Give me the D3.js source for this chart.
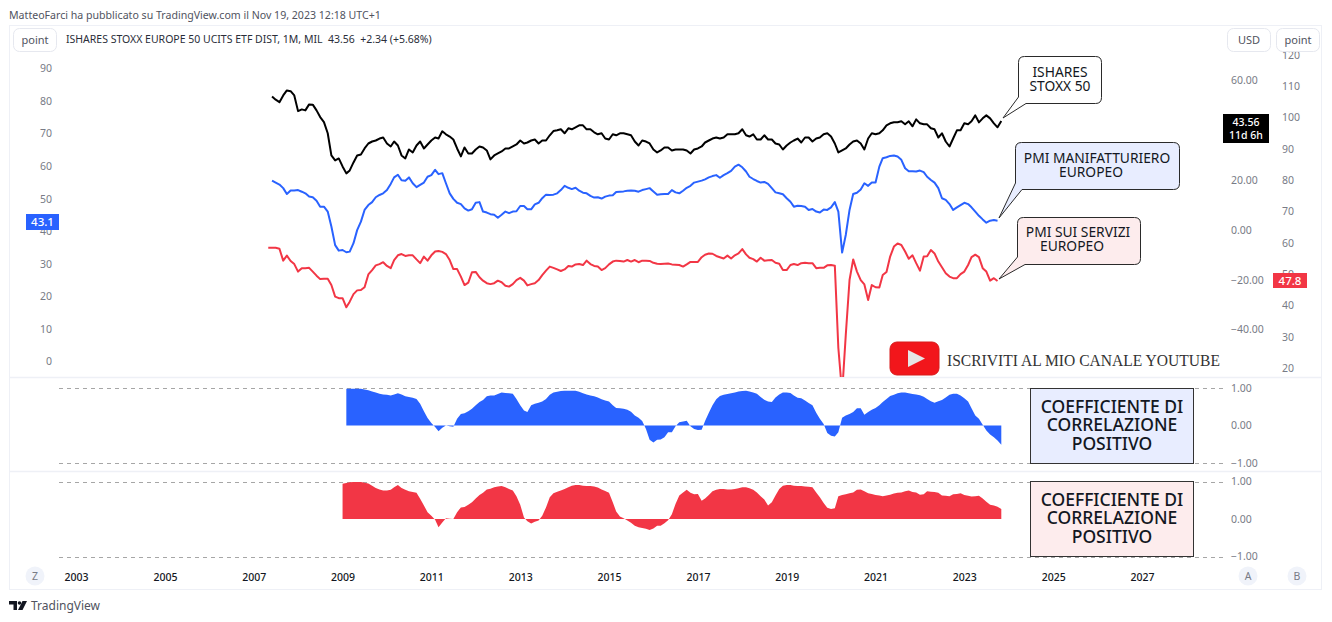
<!DOCTYPE html>
<html>
<head>
<meta charset="utf-8">
<script src="https://cdn.jsdelivr.net/npm/d3@7"></script>
<style>
  html, body { margin: 0; padding: 0; background: #fff; }
  svg { display: block; font-family: "Noto Sans", sans-serif; }
  .domain { display: none; }
  .tick line { display: none; }
</style>
</head>
<body>
<div id="chart"></div>
<script>
// ETF monthly close, USD (Jun 2007 - Nov 2023)
var etfValues = [53.4,52.1,51.1,53.8,55.8,55.5,53.8,47.5,48.2,47.8,50.2,50.1,47.8,45.1,43.1,38.6,29.7,27.7,28.5,25.3,22.5,23.7,26.9,29.7,30.1,32.5,34.5,35.3,35.7,36.5,36.9,34.5,33.3,35.3,33.7,29.7,28.5,32.1,30.9,33.7,35.3,32.5,34.1,35.7,36.9,36.5,39.4,38.2,37.3,36.1,32.5,29.3,32.9,30.5,30.5,32.1,33.3,32.9,31.7,28.1,29.7,30.5,31.3,32.5,32.5,33.3,34.1,35.7,34.5,34.9,35.7,36.1,34.5,35.7,35.7,37.8,
  39.5,39.8,40.2,38.6,40.6,40.2,41,41.8,41.8,40.2,40.2,39,38.2,38.6,36.5,36.1,38.2,37.8,38.6,38.6,38.2,37.8,35.3,33.7,35.7,35.3,34.5,32.1,30.9,31.7,32.9,32.9,31.7,32.1,32.1,32.1,31.7,30.5,32.1,32.5,33.3,34.9,35.7,36.5,36.9,36.5,36.9,38.2,38.2,38.2,38.6,40.2,37.8,37.3,38.2,36.1,36.1,37.8,36.1,36.1,34.5,34.1,32.1,33.7,34.9,35.7,36.5,34.9,36.9,36.9,
  35.3,36.5,36.9,38.2,38.6,37.3,34.5,30.9,31.7,32.5,34.1,35.3,35.7,34.5,32.1,36.5,38.6,38.2,38.6,39.8,41.8,42.6,43,43,43.4,42.2,43.4,41.4,44.2,42.6,42.2,42.2,40.6,40.2,36.9,38.6,35.3,33.3,36.5,39.8,39.8,42.6,42.2,43.4,45.8,43,44.6,45.8,44.6,42.6,41,43.56];

// PMI manifatturiero (Jun 2007 - Oct 2023)
var pmiManuf = [55.4,54.8,54.2,53.1,51.3,52.4,52.4,52.5,52,51.5,50.5,50.3,49.2,47.4,47.4,45.9,41.3,35.6,33.9,34.1,33.4,33.6,36.2,40.2,42.8,46.4,47.9,48.8,50.3,51,51.5,52.5,54.4,56.4,57.2,55.5,55.4,56.4,54.6,53.4,54.1,54.8,56.6,57.1,58.7,57.4,57.7,54.6,51.5,49.8,48.6,48.2,46.9,46.2,46.6,48.6,48.8,45.9,45.6,45.1,44.9,44,44.9,45.9,45.4,45.9,46,47.6,47.6,46.6,46.6,48.1,48.6,50,51.1,51,
  51.1,51.5,52.5,53.8,53.2,52.8,53.2,52.3,51.7,51.5,50.7,50.2,50.3,49.9,50.5,50.8,50.9,51.9,52,52.1,52.3,52.4,52.3,52,52.5,52.8,53.1,52.1,51.1,51.2,51.3,51.3,52.5,51.8,51.5,52.3,53.2,53.8,54.8,55.1,55.4,55.8,56.4,56.8,57.1,56.3,57.1,57.7,58.4,59.7,60.3,59.5,58.2,56.6,55.9,55.3,54.8,55,54.4,53.1,51.8,51.5,51.2,50,48.9,47.4,47.7,47.6,47.4,46.4,
  46.7,45.9,45.6,46.5,46.4,47.2,48.8,45.9,33.3,38.7,46.4,51.3,51.7,52.7,54.6,53.8,54.8,54.8,59.7,62.3,62.6,63,63.1,62.8,61.8,59.2,58.3,58.3,58.2,58.5,58,56.6,55.6,54.8,53.1,50,49.5,48.2,46.4,47.2,47.9,48.6,48.2,47.2,45.9,44.6,43.5,42.5,43.1,43.3,43.1];

// PMI servizi (May 2007 - Oct 2023)
var pmiServ = [58.4,58.4,58.4,58.1,54.3,55.9,54.2,53.2,50.8,51.9,51.9,52,50.8,49.5,48.4,48.5,48.5,46.5,42.8,42.3,42.3,39.4,41.2,43.6,44.8,44.9,45.8,49.9,51.3,52.8,53.2,53.8,52.6,51.9,54.5,56,56.4,55.8,56,56,54.7,53.5,55.6,54.3,56,57.2,57.4,57.1,56.4,54.5,51.6,51.6,49.2,46.5,47.3,50.6,50.7,49,47.9,47.1,46.8,47.1,47.9,47.4,46.3,46,46.8,48.1,48.8,47.9,46.4,46.8,47.1,48.1,49.7,51.1,52.4,
  52,51.5,51,51.5,52.6,52.4,53.1,53.2,52.9,54.3,53.2,52.6,52.4,51.3,51.9,53.1,54,54.3,54.2,54,54.5,54,54.5,53.8,54.3,54.3,54.2,53.6,53.3,53.2,53.3,53.4,53.1,53,52.9,52.4,53.1,53.9,53.9,53.9,55.4,56.2,56.6,56.5,55.8,55.4,55,55.9,55,56,56.6,58,56.3,55.2,54.8,54,55.2,54.3,54.4,54.5,53.6,53.3,51.3,51.3,52.9,53.2,52.9,53.5,53.6,53.5,
  53.5,51.9,52,52,52.8,52.9,52.7,26.4,12,30.5,48.1,54.7,50.8,48.1,46.7,41.7,46.5,45.8,45.7,49.7,50.7,55.6,58.8,59.8,59.3,57.2,54.9,56,53.5,51.1,55.6,55.7,57.7,56.6,54,52.2,50.3,49.2,48.7,48.7,50,50.8,52.9,55.4,56.2,55.4,51.9,50.8,47.9,48.7,47.8];

// Coefficiente di correlazione ETF / PMI manifatturiero (Feb 2009 - Nov 2023)
var corrManuf = [.98,.98,.98,.98,.98,.96,.94,.91,.88,.85,.83,.82,.80,.83,.86,.83,.78,.76,.74,.71,.58,.38,.20,.07,-.04,-.15,-.06,0,-.02,-.03,.18,.31,.33,.38,.45,.54,.63,.68,.78,.80,.80,.84,.88,.87,.86,.85,.71,.54,.40,.36,.54,.58,.61,.64,.71,.82,.88,.90,.92,.93,.93,.93,.93,.90,.86,.83,.80,.78,.75,.70,.67,.64,.54,.47,.46,.45,.42,.37,.27,.21,.12,-.09,-.38,-.45,-.38,-.37,-.31,-.18,-.18,-.02,.09,
  .11,.13,-.02,-.09,-.12,-.11,.12,.34,.54,.70,.79,.82,.84,.86,.88,.91,.92,.93,.91,.88,.85,.76,.69,.64,.63,.75,.83,.88,.88,.87,.80,.74,.73,.67,.60,.54,.34,.18,.04,-.20,-.27,-.29,-.18,.21,.27,.31,.36,.46,.46,.29,.36,.42,.47,.54,.63,.71,.79,.82,.86,.88,.88,.86,.84,.83,.81,.77,.71,.65,.61,.65,.68,.75,.82,.85,.85,.80,.73,.64,.46,.27,.18,.02,-.13,-.24,-.31,-.40,-.51];

// Coefficiente di correlazione ETF / PMI servizi (Jan 2009 - Nov 2023)
var corrServ = [.94,.96,.98,.99,.99,.99,.97,.95,.89,.83,.79,.76,.76,.78,.85,.91,.83,.78,.74,.72,.70,.54,.36,.18,.09,-.02,-.22,-.09,.02,.01,0,.18,.31,.32,.38,.45,.55,.64,.70,.79,.81,.85,.87,.88,.85,.80,.76,.61,.38,.04,-.06,-.12,-.07,-.04,.09,.31,.58,.69,.73,.76,.80,.85,.89,.91,.91,.89,.88,.88,.87,.84,.79,.75,.70,.45,.20,.07,.02,-.04,-.10,-.18,-.22,-.24,-.26,-.29,-.25,-.18,-.18,-.11,-.03,.13,.40,.63,
  .71,.78,.70,.66,.67,.49,.55,.64,.74,.78,.80,.80,.79,.79,.80,.82,.85,.85,.82,.78,.71,.61,.52,.36,.45,.63,.80,.89,.91,.91,.89,.88,.88,.87,.86,.85,.71,.58,.43,.30,.27,.29,.61,.64,.66,.69,.71,.78,.79,.74,.69,.67,.64,.63,.61,.63,.65,.68,.70,.71,.74,.76,.72,.71,.65,.66,.74,.73,.72,.70,.63,.62,.61,.66,.67,.69,.64,.62,.60,.61,.62,.55,.46,.38,.36,.33,.27];

var leftTicks = [90,80,70,60,50,40,30,20,10,0];
var usdTicks = [60,20,0,-20,-40];
var pointTicks = [120,110,100,90,80,70,60,50,40,30,20];
var corrTicks = [1,0,-1];
var yearTicks = [2003,2005,2007,2009,2011,2013,2015,2017,2019,2021,2023,2025,2027];

var blue = "#2962ff", red = "#f23645", gridText = "#50535e", border = "#eef0f6";
var width = 1332, height = 622;

var svg = d3.select("#chart").append("svg")
  .attr("width", width)
  .attr("height", height)
  .attr("viewBox", "0,0," + width + "," + height);

// monthly dates for a series that ends at the given month
function monthsEnding(n, endYear, endMonth) {
  return d3.range(n).map(function(i) {
    return new Date(Date.UTC(endYear, endMonth - (n - 1 - i), 1));
  });
}

function toPoints(values, endYear, endMonth) {
  var dates = monthsEnding(values.length, endYear, endMonth);
  return values.map(function(v, i) { return {date: dates[i], value: v}; });
}

// Scales
var x = d3.scaleUtc()
  .domain([new Date(Date.UTC(2003, 0, 1)), new Date(Date.UTC(2027, 0, 1))])
  .range([76, 1142]);
var yLeft = d3.scaleLinear().domain([0, 90]).range([361, 68]);
var yUsd = d3.scaleLinear().domain([-40, 60]).range([329, 80]);
var yPoint = d3.scaleLinear().domain([20, 120]).range([368, 55]);
var yCorr1 = d3.scaleLinear().domain([-1, 1]).range([463, 388]);
var yCorr2 = d3.scaleLinear().domain([-1, 1]).range([556.5, 481.5]);

// Frame and pane separators
svg.append("rect").attr("x", 9.5).attr("y", 25.5).attr("width", 1312).attr("height", 564)
  .attr("fill", "none").attr("stroke", border);
[377.5, 471.5].forEach(function(py) {
  svg.append("line").attr("x1", 9.5).attr("x2", 1321.5).attr("y1", py).attr("y2", py)
    .attr("stroke", border).attr("stroke-width", 1.5);
});

// Header
svg.append("text").attr("x", 9).attr("y", 18.5)
  .attr("font-size", 10.6).attr("fill", gridText)
  .text("MatteoFarci ha pubblicato su TradingView.com il Nov 19, 2023 12:18 UTC+1");
svg.append("text").attr("x", 66).attr("y", 43)
  .attr("font-size", 10.5).attr("fill", "#2a2e39").attr("xml:space", "preserve")
  .text("ISHARES STOXX EUROPE 50 UCITS ETF DIST, 1M, MIL  43.56  +2.34 (+5.68%)");

// Clip the main pane, the services spike leaves it at the bottom
svg.append("defs").append("clipPath").attr("id", "clipMain")
  .append("rect").attr("x", 10).attr("y", 26).attr("width", 1210).attr("height", 351);

function drawLine(values, endMonth, yScale, color) {
  var line = d3.line()
    .x(function(d) { return x(d.date); })
    .y(function(d) { return yScale(d.value); });
  svg.append("path")
    .datum(toPoints(values, 2023, endMonth))
    .attr("clip-path", "url(#clipMain)")
    .attr("fill", "none")
    .attr("stroke", color)
    .attr("stroke-width", 2)
    .attr("stroke-linejoin", "round")
    .attr("d", line);
}

drawLine(etfValues, 10, yUsd, "#000");
drawLine(pmiManuf, 9, yLeft, blue);
drawLine(pmiServ, 9, yPoint, red);

// Correlation panes
function drawCorr(values, yScale, color) {
  [1, -1].forEach(function(level) {
    svg.append("line")
      .attr("x1", 59).attr("x2", 1223)
      .attr("y1", Math.round(yScale(level)) + .5).attr("y2", Math.round(yScale(level)) + .5)
      .attr("stroke", "#a6a6a6").attr("stroke-dasharray", "4,4");
  });
  var area = d3.area()
    .x(function(d) { return x(d.date); })
    .y0(yScale(0))
    .y1(function(d) { return yScale(d.value); });
  svg.append("path")
    .datum(toPoints(values, 2023, 10))
    .attr("fill", color)
    .attr("d", area);
}
drawCorr(corrManuf, yCorr1, blue);
drawCorr(corrServ, yCorr2, red);

// Axes
function tickStyle(g, color) {
  g.selectAll("text").attr("fill", color).attr("font-size", 10.5).attr("font-family", '"Noto Sans", sans-serif');
}
function minusFormat(d) { return d3.format(".2f")(d).replace("-", "\u2212"); }

svg.append("g").attr("transform", "translate(52,0.5)")
  .call(d3.axisLeft(yLeft).tickValues(leftTicks).tickSize(0).tickPadding(0))
  .call(tickStyle, "#787b86");
svg.append("g").attr("transform", "translate(1231,0.5)")
  .call(d3.axisRight(yUsd).tickValues(usdTicks).tickSize(0).tickPadding(0).tickFormat(minusFormat))
  .call(tickStyle, "#787b86");
svg.append("g").attr("transform", "translate(1282,0)")
  .call(d3.axisRight(yPoint).tickValues(pointTicks).tickSize(0).tickPadding(0))
  .call(tickStyle, "#787b86");
svg.append("g").attr("transform", "translate(1231,0)")
  .call(d3.axisRight(yCorr1).tickValues(corrTicks).tickSize(0).tickPadding(0).tickFormat(minusFormat))
  .call(tickStyle, "#787b86");
svg.append("g").attr("transform", "translate(1231,0)")
  .call(d3.axisRight(yCorr2).tickValues(corrTicks).tickSize(0).tickPadding(0).tickFormat(minusFormat))
  .call(tickStyle, "#787b86");
svg.append("g").attr("transform", "translate(0,573.5)")
  .call(d3.axisBottom(x)
    .tickValues(yearTicks.map(function(y) { return new Date(Date.UTC(y, 0, 1)); }))
    .tickSize(0).tickPadding(0).tickFormat(d3.utcFormat("%Y")))
  .call(tickStyle, "#131722")
  .selectAll("text").attr("font-weight", 500);

// Scale buttons, they sit on top of the 120 tick
function button(bx, label) {
  svg.append("rect").attr("x", bx + .5).attr("y", 28.5).attr("width", 43).attr("height", 23).attr("rx", 6)
    .attr("fill", "#fff").attr("stroke", "#e6e8ef");
  svg.append("text").attr("x", bx + 22).attr("y", 43.5).attr("text-anchor", "middle")
    .attr("font-size", 11).attr("fill", gridText).text(label);
}
button(13, "point");
button(1227, "USD");
button(1276, "point");

// Last value labels
function priceLabel(lx, ly, w, h, color, lines, size) {
  svg.append("rect").attr("x", lx).attr("y", ly).attr("width", w).attr("height", h).attr("fill", color);
  lines.forEach(function(t, i) {
    svg.append("text").attr("x", lx + w / 2).attr("y", ly + 11.5 + i * 13)
      .attr("text-anchor", "middle").attr("font-size", size).attr("font-weight", 500).attr("fill", "#fff").text(t);
  });
}
priceLabel(26, 214, 33, 16, blue, [d3.format(".1f")(pmiManuf[pmiManuf.length - 1])], 11.5);
priceLabel(1223, 114, 46, 29, "#000", [d3.format(".2f")(etfValues[etfValues.length - 1]), "11d 6h"], 10.5);
priceLabel(1273, 273, 34, 15, red, [d3.format(".1f")(pmiServ[pmiServ.length - 1])], 11.5);

// Callouts
function callout(opts) {
  var l = opts.x, t = opts.y, r = opts.x + opts.w, b = opts.y + opts.h, c = 6;
  var p = d3.path();
  p.moveTo(l + c, t);
  p.lineTo(r - c, t); p.quadraticCurveTo(r, t, r, t + c);
  p.lineTo(r, b - c); p.quadraticCurveTo(r, b, r - c, b);
  p.lineTo(opts.baseX, b);
  p.lineTo(opts.tipX, opts.tipY);
  p.lineTo(l, opts.baseY);
  p.lineTo(l, t + c); p.quadraticCurveTo(l, t, l + c, t);
  p.closePath();
  svg.append("path").attr("d", p.toString())
    .attr("fill", opts.fill).attr("stroke", "#2a2a2a").attr("stroke-width", 1);
  opts.lines.forEach(function(line) {
    svg.append("text").attr("x", line[1]).attr("y", line[2]).attr("text-anchor", "middle")
      .attr("font-size", 13.8).attr("fill", "#131722").text(line[0]);
  });
}
callout({x: 1018.5, y: 56.5, w: 83, h: 47, tipX: 1003, tipY: 118, baseX: 1026, baseY: 97, fill: "#fff",
  lines: [["ISHARES", 1060, 77], ["STOXX 50", 1060, 91]]});
callout({x: 1015.5, y: 142.5, w: 164, h: 47, tipX: 999, tipY: 218, baseX: 1022, baseY: 183, fill: "#e8edff",
  lines: [["PMI MANIFATTURIERO", 1097, 163], ["EUROPEO", 1091, 177]]});
callout({x: 1017.5, y: 217.5, w: 123, h: 47, tipX: 999, tipY: 279, baseX: 1025, baseY: 257, fill: "#fdeced",
  lines: [["PMI SUI SERVIZI", 1078, 237], ["EUROPEO", 1072, 251]]});

// Text boxes on the correlation panes
function corrBox(by, fill) {
  svg.append("rect").attr("x", 1030.5).attr("y", by + .5).attr("width", 163).attr("height", 75)
    .attr("fill", fill).attr("stroke", "#333");
  ["COEFFICIENTE DI", "CORRELAZIONE", "POSITIVO"].forEach(function(t, i) {
    svg.append("text").attr("x", 1112).attr("y", by + 24.5 + i * 18.5).attr("text-anchor", "middle")
      .attr("font-size", 17.5).attr("font-weight", 500).attr("fill", "#131722").text(t);
  });
}
corrBox(388, "#e8edff");
corrBox(481, "#fdeced");

// Youtube badge
svg.append("rect").attr("x", 890).attr("y", 342).attr("width", 49).attr("height", 33).attr("rx", 7)
  .attr("fill", "#f2161b").attr("stroke", "#d81a1a");
svg.append("path").attr("d", "M908,350L925,358.5L908,367Z").attr("fill", "#e6e6e6");
svg.append("text").attr("x", 947).attr("y", 366)
  .attr("font-family", '"Liberation Serif", serif').attr("font-size", 16.5).attr("fill", "#333")
  .attr("textLength", 273).attr("lengthAdjust", "spacingAndGlyphs")
  .text("ISCRIVITI AL MIO CANALE YOUTUBE");

// Scale corner buttons
[["Z", 35], ["A", 1248], ["B", 1297]].forEach(function(b) {
  svg.append("circle").attr("cx", b[1]).attr("cy", 576).attr("r", 9.5).attr("fill", "#f0f3fa");
  svg.append("text").attr("x", b[1]).attr("y", 580).attr("text-anchor", "middle")
    .attr("font-size", 10.5).attr("fill", "#787b86").text(b[0]);
});

// TradingView logo
svg.append("path").attr("d", "M9,601H17V610H13.5V604.5H9ZM22.5,601H27L22.5,610H18Z").attr("fill", "#131722");
svg.append("circle").attr("cx", 19.5).attr("cy", 603).attr("r", 1.8).attr("fill", "#131722");
svg.append("text").attr("x", 31).attr("y", 610)
  .attr("font-size", 12).attr("fill", "#50535e").text("TradingView");
</script>
</body>
</html>
